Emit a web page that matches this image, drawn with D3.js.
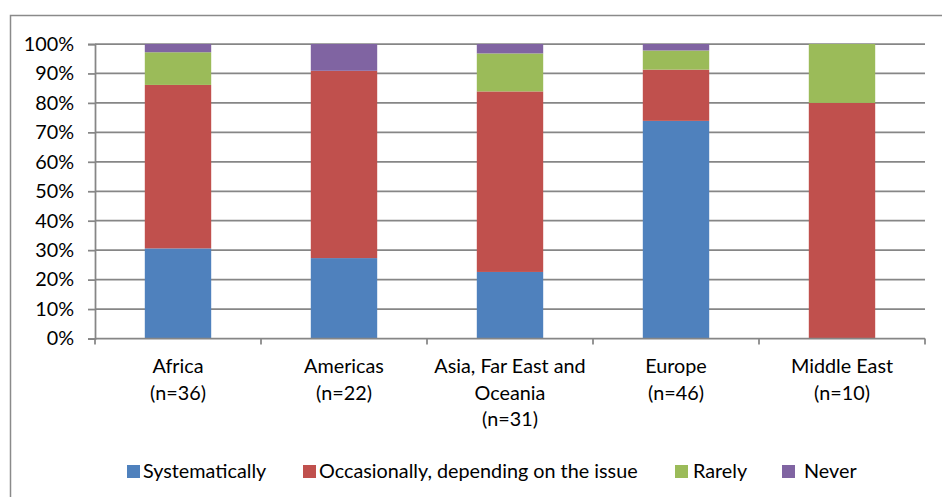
<!DOCTYPE html>
<html>
<head>
<meta charset="utf-8">
<script src="https://cdn.jsdelivr.net/npm/d3@7"></script>
<style>
  html, body { margin: 0; padding: 0; background: #fff; }
  svg { display: block; }
  text { font-family: Lato, "Open Sans", sans-serif; fill: #000; }
</style>
</head>
<body>
<svg id="chart" width="942" height="497"></svg>
<script>
// Regions and their respondent counts
const regions = [
  ["Africa", "(n=36)"],
  ["Americas", "(n=22)"],
  ["Asia, Far East and", "Oceania", "(n=31)"],
  ["Europe", "(n=46)"],
  ["Middle East", "(n=10)"]
];

// Share of answers per region, in percent
const systematically = [30.6, 27.3, 22.6, 73.9, 0];
const occasionally   = [55.5, 63.6, 61.3, 17.4, 80];
const rarely         = [11.1, 0, 12.9, 6.5, 20];
const never          = [2.8, 9.1, 3.2, 2.2, 0];

const seriesNames  = ["Systematically", "Occasionally, depending on the issue", "Rarely", "Never"];
const seriesColors = ["#4F81BD", "#C0504D", "#9BBB59", "#8064A2"];
const yTicks = [0, 10, 20, 30, 40, 50, 60, 70, 80, 90, 100];

const fontSize = 19.8;
const svg = d3.select("#chart");
const gridColor = "#868686";

// outer chart frame
svg.append("rect")
  .attr("x", 10.5).attr("y", 15.5)
  .attr("width", 1000).attr("height", 600)
  .attr("fill", "none").attr("stroke", "#8a8a8a").attr("stroke-width", 1.5);

const plot = { left: 95, right: 925, top: 44, bottom: 338.5 };

const keys = regions.map((_, i) => i);
const x = d3.scaleBand().domain(keys).range([plot.left, plot.right]).paddingInner(0.6).paddingOuter(0.3);
const xOuter = d3.scaleBand().domain(keys).range([plot.left, plot.right]);
const y = d3.scaleLinear().domain([0, 100]).range([plot.bottom, plot.top]);

// horizontal gridlines
svg.append("g").selectAll("line")
  .data(yTicks.filter(t => t > 0))
  .join("line")
  .attr("x1", plot.left).attr("x2", plot.right)
  .attr("y1", d => y(d)).attr("y2", d => y(d))
  .attr("stroke", gridColor).attr("stroke-width", 1.75);

// stacked bars
const rows = keys.map(i => ({
  key: i,
  s0: systematically[i], s1: occasionally[i], s2: rarely[i], s3: never[i]
}));
const stack = d3.stack().keys(["s0", "s1", "s2", "s3"]);
const layers = stack(rows);

svg.append("g").selectAll("g")
  .data(layers)
  .join("g")
  .attr("fill", (d, i) => seriesColors[i])
  .selectAll("rect")
  .data(d => d.filter(v => v[1] - v[0] > 0))
  .join("rect")
  .attr("x", d => x(d.data.key))
  .attr("width", x.bandwidth())
  .attr("y", d => y(d[1]))
  .attr("height", d => y(d[0]) - y(d[1]));

// y axis
const yAxis = svg.append("g")
  .attr("transform", `translate(${plot.left},0)`)
  .call(d3.axisLeft(y).tickValues(yTicks).tickFormat(d => d + "%").tickSize(7).tickPadding(14));
yAxis.select(".domain").attr("stroke", gridColor).attr("stroke-width", 1.75);
yAxis.selectAll(".tick line").attr("stroke", gridColor).attr("stroke-width", 1.75);
yAxis.selectAll(".tick text").attr("font-size", fontSize).attr("font-family", "Lato, sans-serif").attr("fill", "#000");

// x axis with ticks at category boundaries
const xAxisG = svg.append("g").attr("transform", `translate(0,${plot.bottom})`);
xAxisG.append("line")
  .attr("x1", plot.left).attr("x2", plot.right)
  .attr("stroke", gridColor).attr("stroke-width", 1.75);
const boundaries = keys.map(i => xOuter(i)).concat([plot.right]);
xAxisG.selectAll("line.bt")
  .data(boundaries)
  .join("line").attr("class", "bt")
  .attr("x1", d => d).attr("x2", d => d)
  .attr("y1", 0).attr("y2", 6)
  .attr("stroke", gridColor).attr("stroke-width", 1.75);

// category labels
xAxisG.selectAll("text.cat")
  .data(regions)
  .join("text").attr("class", "cat")
  .attr("text-anchor", "middle")
  .attr("font-size", fontSize)
  .attr("x", (d, i) => x(i) + x.bandwidth() / 2)
  .attr("y", 34.5)
  .selectAll("tspan")
  .data(d => d)
  .join("tspan")
  .attr("x", function () { return d3.select(this.parentNode).attr("x"); })
  .attr("dy", (d, i) => i === 0 ? 0 : 26.7)
  .text(d => d);

// legend
const legendX = [127, 303, 675, 782];
const legendTextX = [143, 319, 693, 804];
const legend = svg.append("g");
seriesNames.forEach((name, i) => {
  legend.append("rect")
    .attr("x", legendX[i]).attr("y", 465)
    .attr("width", 13).attr("height", 13)
    .attr("fill", seriesColors[i]);
  legend.append("text")
    .attr("x", legendTextX[i]).attr("y", 478)
    .attr("font-size", fontSize)
    .text(name);
});
</script>
</body>
</html>
